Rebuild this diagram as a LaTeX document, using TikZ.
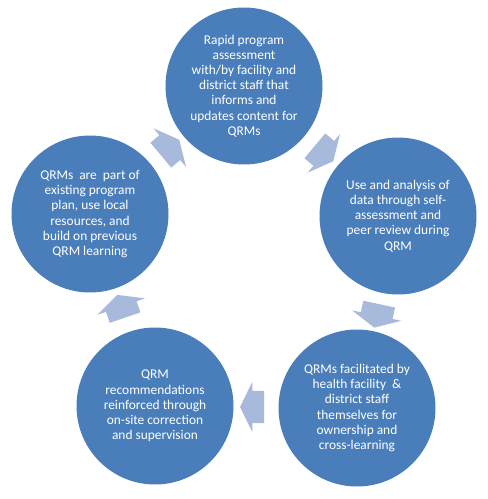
\documentclass[tikz,border=0pt]{standalone}
\usepackage{fontspec}
\setmainfont{Carlito}
\usetikzlibrary{shapes.arrows,calc}
\definecolor{stageblue}{RGB}{74,126,187}
\definecolor{arrowblue}{RGB}{167,186,219}

\begin{document}
\begin{tikzpicture}[x=1pt,y=1pt,
	stage/.style={circle, fill=stageblue, minimum size=157pt, inner sep=0pt,
		text=white, align=center, font=\fontsize{13.4}{15.2}\selectfont},
	cyclearrow/.style={single arrow, fill=arrowblue, minimum height=24pt,
		minimum width=50pt, single arrow head extend=9pt,
		single arrow tip angle=128, inner sep=0pt}]
		\useasboundingbox (0,0) rectangle (488,-499);

		% The five stages of the cycle
		\node[stage] (assess) at (244,-86) {Rapid program\\assessment\\with/by facility and\\district staff that\\informs and\\updates content for\\QRMs};
		\node[stage] (analysis) at (398,-216) {Use and analysis of\\data through self-\\assessment and\\peer review during\\QRM};
		\node[stage] (facilitate) at (357,-408) {QRMs facilitated by\\health facility~ \&\\district staff\\themselves for\\ownership and\\cross-learning};
		\node[stage] (reinforce) at (155,-406) {QRM\\recommendations\\reinforced through\\on-site correction\\and supervision};
		\node[stage] (plan) at (90,-214) {QRMs~ are~ part of\\existing program\\plan, use local\\resources, and\\build on previous\\QRM learning};

		% Arrows between the stages
		\node[cyclearrow, rotate=-40] (a1) at ($(assess)!0.5!(analysis)$) {\rule{0pt}{32pt}};
		\node[cyclearrow, rotate=-102] (a2) at ($(analysis)!0.5!(facilitate)$) {\rule{0pt}{32pt}};
		\node[cyclearrow, rotate=180] (a3) at ($(facilitate)!0.5!(reinforce)$) {\rule{0pt}{32pt}};
		\node[cyclearrow, rotate=109] (a4) at ($(reinforce)!0.5!(plan)$) {\rule{0pt}{32pt}};
		\node[cyclearrow, rotate=40] (a5) at ($(plan)!0.5!(assess)$) {\rule{0pt}{32pt}};
	\end{tikzpicture}
\end{document}
